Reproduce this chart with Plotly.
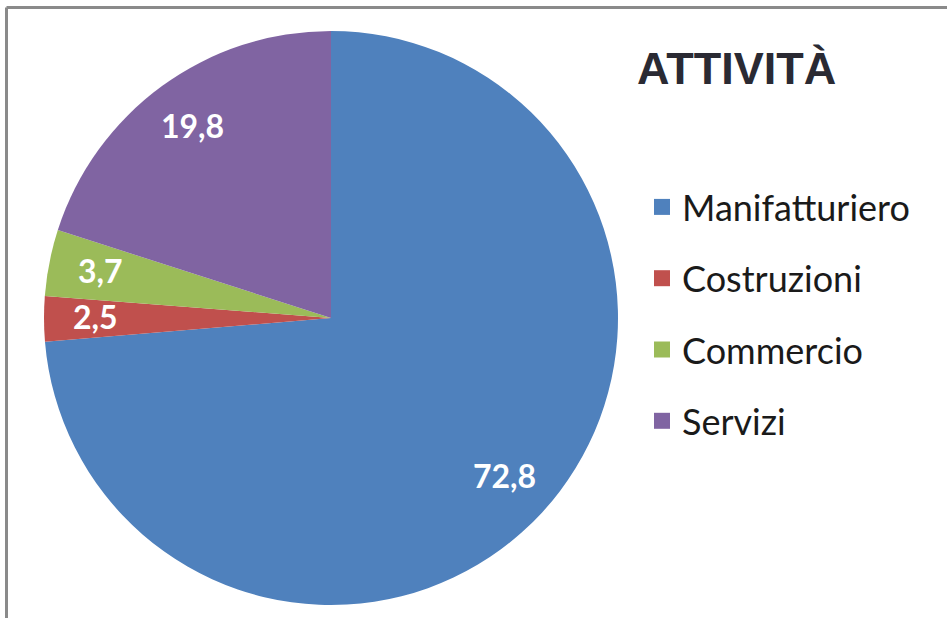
import math
import plotly.graph_objects as go

categories = ["Manifatturiero", "Costruzioni", "Commercio", "Servizi"]
values = [72.8, 2.5, 3.7, 19.8]
value_labels = ["72,8", "2,5", "3,7", "19,8"]
colors = ["#4F81BD", "#C0504D", "#9BBB59", "#8064A2"]
title_text = "ATTIVITÀ"

W, H = 947, 618
dom_x = [44 / W, 618 / W]
dom_y = [1 - 605 / H, 1 - 31 / H]

fig = go.Figure()
fig.add_trace(go.Pie(
    labels=categories, values=values, sort=False, direction="clockwise",
    rotation=0, marker=dict(colors=colors, line=dict(width=0)),
    textinfo="none", hoverinfo="label+value", showlegend=False,
    domain=dict(x=dom_x, y=dom_y),
))

# legend entries
for c, col in zip(categories, colors):
    fig.add_trace(go.Scatter(
        x=[None], y=[None], mode="markers", name=c, legendgroup=c,
        marker=dict(symbol="square", size=20, color=col),
        showlegend=True, hoverinfo="skip",
    ))

# value labels positioned from the data (slice mid-angle)
cx = (dom_x[0] + dom_x[1]) / 2 * W
cy = (1 - (dom_y[0] + dom_y[1]) / 2) * H
R = (dom_x[1] - dom_x[0]) * W / 2
total = sum(values)
cum = 0.0
for v, t in zip(values, value_labels):
    mid = (cum + v / 2) / total * 2 * math.pi
    cum += v
    px = cx + 0.82 * R * math.sin(mid)
    py = cy - 0.82 * R * math.cos(mid) - 2
    fig.add_annotation(x=px / W, y=1 - py / H, xref="paper", yref="paper",
                       xanchor="center", yanchor="middle",
                       text=t, showarrow=False,
                       font=dict(family="Lato", size=32, color="white", weight="bold"))

fig.add_annotation(x=736 / W, y=1 - 41 / H, xref="paper", yref="paper",
                   xanchor="center", yanchor="top",
                   text=title_text, showarrow=False,
                   font=dict(family="Liberation Sans", size=45, color="#2a2a33", weight="bold"))

# frame
fig.add_shape(type="line", xref="paper", yref="paper", x0=6.5 / W, x1=1.01,
              y0=1 - 7.5 / H, y1=1 - 7.5 / H, line=dict(color="#8a8a8a", width=3))
fig.add_shape(type="line", xref="paper", yref="paper", x0=6.5 / W, x1=6.5 / W,
              y0=-0.01, y1=1 - 7.5 / H, line=dict(color="#8a8a8a", width=3))

fig.update_layout(
    width=W, height=H, margin=dict(l=0, r=0, t=0, b=0),
    paper_bgcolor="white", plot_bgcolor="white",
    xaxis=dict(visible=False, domain=[0.99, 1]), yaxis=dict(visible=False, domain=[0.99, 1]),
    legend=dict(x=642 / W, y=1 - 177 / H, xanchor="left", yanchor="top",
                font=dict(family="Lato", size=36, color="#1a1a1a"),
                tracegroupgap=21.5, itemsizing="trace", bgcolor="rgba(0,0,0,0)"),
    showlegend=True,
)

fig.write_html("out.html", config={"displayModeBar": False},
               post_script="document.body.style.margin='0';")
